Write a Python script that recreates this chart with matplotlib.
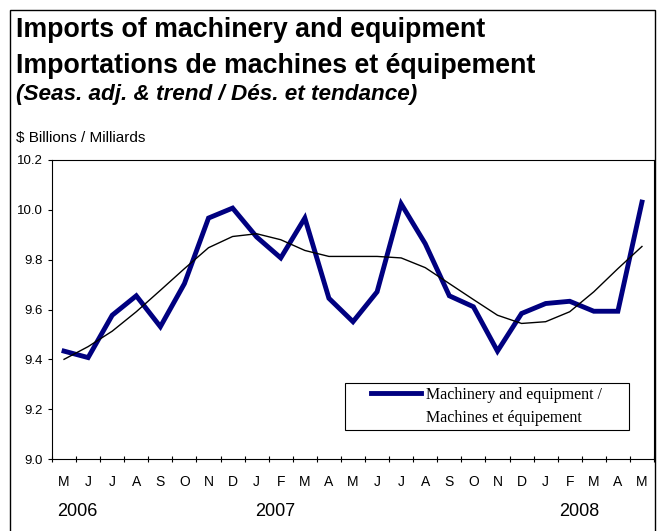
import matplotlib.pyplot as plt
from matplotlib.lines import Line2D
from matplotlib.patches import Rectangle

months = ['M', 'J', 'J', 'A', 'S', 'O', 'N', 'D', 'J', 'F', 'M', 'A', 'M',
          'J', 'J', 'A', 'S', 'O', 'N', 'D', 'J', 'F', 'M', 'A', 'M']
years = ['2006', '2007', '2008']
year_pos = [0.54, 8.75, 21.4]

imports = [9.433, 9.407, 9.577, 9.655, 9.531, 9.704, 9.967, 10.007, 9.891, 9.807, 9.967, 9.645,
           9.551, 9.671, 10.024, 9.864, 9.655, 9.611, 9.433, 9.584, 9.624, 9.633, 9.593, 9.593,
           10.031]
trend = [9.40, 9.451, 9.513, 9.591, 9.677, 9.764, 9.848, 9.893, 9.904, 9.88, 9.837, 9.813,
         9.813, 9.813, 9.807, 9.768, 9.704, 9.64, 9.577, 9.544, 9.551, 9.591, 9.671, 9.764,
         9.853]
legend_lines = ['Machinery and equipment /', 'Machines et équipement']

plt.rcParams['font.family'] = ['Liberation Sans', 'DejaVu Sans']

W, H = 660, 531
fig = plt.figure(figsize=(6.6, 5.31), dpi=100)

# outer frame
fig.patches.append(Rectangle((9.5 / W, -0.01), 645.5 / W, 1 - 10.5 / H + 0.01,
                             transform=fig.transFigure, fill=False,
                             edgecolor='black', linewidth=1))

fig.text(16 / W, 1 - 37 / H, 'Imports of machinery and equipment',
         fontsize=19.3, fontweight='bold', va='baseline')
fig.text(16 / W, 1 - 73 / H, 'Importations de machines et équipement',
         fontsize=19.3, fontweight='bold', va='baseline')
fig.text(16 / W, 1 - 99.5 / H, '(Seas. adj. & trend / Dés. et tendance)',
         fontsize=16.2, fontweight='bold', style='italic', va='baseline')
fig.text(16 / W, 1 - 138 / H, '$ Billions / Milliards', fontsize=11, va='center')

ax = fig.add_axes([52 / W, 1 - 459 / H, 602 / W, 299 / H])
x = list(range(len(months)))
line_imp, = ax.plot(x, imports, color='#000080', linewidth=3.5, solid_joinstyle='miter')
ax.plot(x, trend, color='black', linewidth=1)

ax.set_xlim(-0.5, len(months) - 0.5)
ax.set_ylim(9.0, 10.2)
ax.set_yticks([9.0, 9.2, 9.4, 9.6, 9.8, 10.0, 10.2])
ax.set_yticklabels(['9.0', '9.2', '9.4', '9.6', '9.8', '10.0', '10.2'])
ax.set_xticks([i - 0.5 for i in range(len(months) + 1)])
ax.set_xticklabels([])
ax.tick_params(axis='x', direction='inout', length=5, width=0.8)
ax.tick_params(axis='y', direction='out', length=3, width=0.8, labelsize=9.5, pad=3.5)
for sp in ax.spines.values():
    sp.set_linewidth(0.8)

for i, m in enumerate(months):
    ax.text(i, 8.908, m, ha='center', va='center', fontsize=10)
for yp, yr in zip(year_pos, years):
    ax.text(yp, 8.788, yr, ha='center', va='center', fontsize=13)

# legend box, handle sits next to the first line only
ax.add_patch(Rectangle((0.486, 0.097), 0.4725, 0.157, transform=ax.transAxes,
                       fill=True, facecolor='white', edgecolor='black',
                       linewidth=0.8, zorder=4))
blank = Line2D([], [], alpha=0)
leg = ax.legend([line_imp, blank], legend_lines, loc='center',
                bbox_to_anchor=(0.722, 0.1755), frameon=False,
                prop={'family': 'Liberation Serif', 'size': 11.5},
                handlelength=3.1, handletextpad=0.3, borderpad=0.2,
                labelspacing=0.45)
leg.set_zorder(5)

fig.savefig('out.png', dpi=100)
